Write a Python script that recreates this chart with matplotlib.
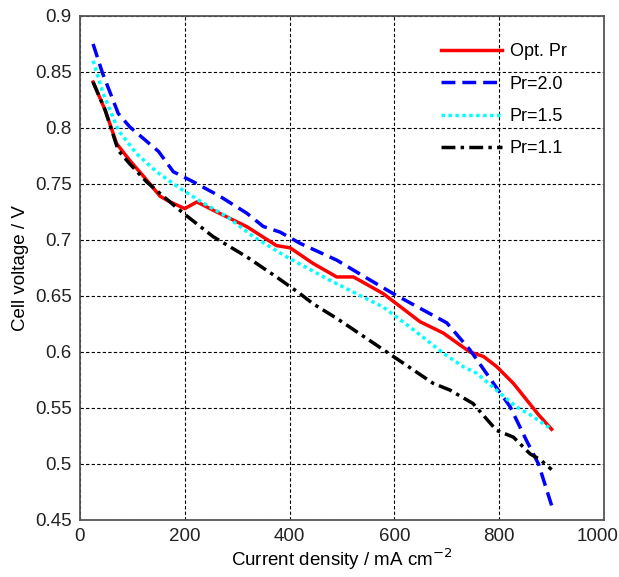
import matplotlib
matplotlib.use("Agg")
import matplotlib.pyplot as plt
from matplotlib.transforms import ScaledTranslation

plt.rcParams['font.family'] = ['Liberation Sans', 'DejaVu Sans']

# Data
x_opt = [25, 48, 70, 95, 121, 153, 172, 200, 223, 261, 318, 375, 401, 445, 490, 522, 579, 649, 693, 744, 770, 795, 827, 875, 900]
v_opt = [0.841, 0.816, 0.786, 0.771, 0.757, 0.739, 0.734, 0.728, 0.734, 0.725, 0.712, 0.695, 0.693, 0.679, 0.667, 0.667, 0.652, 0.627, 0.617, 0.600, 0.596, 0.587, 0.572, 0.544, 0.531]

x_p20 = [25, 43, 73, 95, 150, 178, 216, 267, 318, 350, 382, 420, 490, 540, 598, 700, 744, 789, 821, 852, 875, 900]
v_p20 = [0.875, 0.849, 0.813, 0.801, 0.779, 0.761, 0.752, 0.739, 0.724, 0.712, 0.707, 0.697, 0.682, 0.668, 0.652, 0.626, 0.602, 0.572, 0.551, 0.521, 0.500, 0.463]

x_p15 = [25, 44, 73, 108, 146, 191, 235, 280, 331, 394, 477, 579, 636, 693, 731, 757, 802, 833, 859, 900]
v_p15 = [0.860, 0.831, 0.798, 0.777, 0.761, 0.746, 0.733, 0.721, 0.703, 0.685, 0.664, 0.640, 0.620, 0.599, 0.587, 0.581, 0.563, 0.551, 0.544, 0.531]

x_p11 = [25, 48, 73, 95, 127, 159, 197, 254, 318, 375, 420, 445, 490, 541, 598, 674, 706, 750, 795, 827, 859, 878, 900]
v_p11 = [0.841, 0.816, 0.780, 0.768, 0.752, 0.739, 0.724, 0.703, 0.685, 0.667, 0.652, 0.643, 0.630, 0.614, 0.596, 0.572, 0.566, 0.554, 0.530, 0.524, 0.509, 0.504, 0.495]

labels = ['Opt. Pr', 'Pr=2.0', 'Pr=1.5', 'Pr=1.1']
xticks = [0, 200, 400, 600, 800, 1000]
yticks = [0.45, 0.5, 0.55, 0.6, 0.65, 0.7, 0.75, 0.8, 0.85, 0.9]
yticklabels = ['0.45', '0.5', '0.55', '0.6', '0.65', '0.7', '0.75', '0.8', '0.85', '0.9']

fig = plt.figure(figsize=(6.19, 5.77), dpi=100)
ax = fig.add_axes([0.1292, 0.0988, 0.8466, 0.8735])

ax.plot(x_opt, v_opt, color='#ff0000', lw=2.5, ls='-', label=labels[0])
ax.plot(x_p20, v_p20, color='#0000ff', lw=2.5, ls=(0, (4, 2)), label=labels[1])
ax.plot(x_p15, v_p15, color='#00ffff', lw=2.5, ls=(0, (1, 1)), label=labels[2])
ax.plot(x_p11, v_p11, color='#000000', lw=2.5, ls=(0, (4, 1.5, 1, 1.5)), label=labels[3])

ax.set_xlim(0, 1000)
ax.set_ylim(0.45, 0.9)
ax.set_xticks(xticks)
ax.set_xticklabels([str(t) for t in xticks])
ax.set_yticks(yticks)
ax.set_yticklabels(yticklabels)
ax.tick_params(direction='in', labelsize=13.5, length=0, colors='#222222')
ax.tick_params(axis='x', pad=6)
ax.tick_params(axis='y', pad=6)
ax.grid(True, color='black', ls=(0, (3, 2)), lw=0.8)
for s in ax.spines.values():
    s.set_color('#555555')
    s.set_linewidth(1.3)

# shift the last x tick label so it stays inside the figure, as in the reference
last = ax.get_xticklabels()[-1]
last.set_transform(last.get_transform() + ScaledTranslation(-6 / 100, 0, fig.dpi_scale_trans))

ax.set_xlabel('Current density / mA cm$^{-2}$', fontsize=13.5, labelpad=1)
ax.set_ylabel('Cell voltage / V', fontsize=13.5, labelpad=4)

leg = ax.legend(loc='upper left', frameon=False, fontsize=13, handlelength=3.4,
                bbox_to_anchor=(0.689, 0.946), labelspacing=0.85, handletextpad=0.4,
                borderaxespad=0.0, borderpad=0.0)

fig.savefig('out.png', dpi=100)
